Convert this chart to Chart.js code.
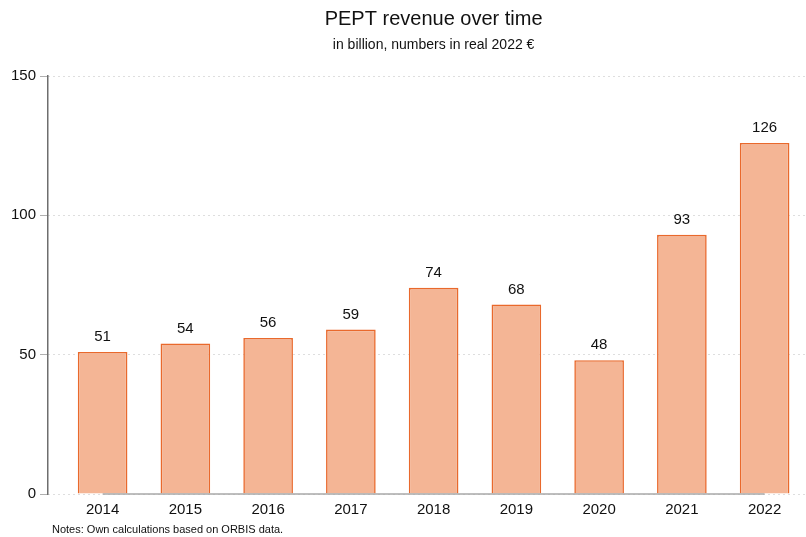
<!DOCTYPE html>
<html>
<head>
<meta charset="utf-8">
<script src="https://cdn.jsdelivr.net/npm/chart.js@4.4.1/dist/chart.umd.min.js"></script>
<style>
html,body{margin:0;padding:0;background:#fff;}
#wrap{width:806px;height:537px;}
</style>
</head>
<body>
<div id="wrap"><canvas id="c" width="806" height="537"></canvas></div>
<script>
const categories = ['2014','2015','2016','2017','2018','2019','2020','2021','2022'];
const revenue = [51, 54, 56, 59, 74, 68, 48, 93, 126];
const yTicks = [0, 50, 100, 150];
const titleText = 'PEPT revenue over time';
const subtitleText = 'in billion, numbers in real 2022 €';
const noteText = 'Notes: Own calculations based on ORBIS data.';

const FONT = '"Liberation Sans", Arial, sans-serif';

const barData = revenue.map((v, i) => ({x: i, y: v}));
const axisLine = [{x: 0, y: 0}, {x: categories.length - 1, y: 0}];

const textPlugin = {
  id: 'texts',
  afterDraw(chart) {
    const ctx = chart.ctx;
    const xs = chart.scales.x;
    const cx = (xs.getPixelForValue(-0.5) + xs.getPixelForValue(categories.length - 0.5)) / 2;
    ctx.save();
    ctx.fillStyle = '#111';
    ctx.textAlign = 'center';
    ctx.textBaseline = 'middle';
    ctx.font = '20px ' + FONT;
    ctx.fillText(titleText, cx, 19);
    ctx.font = '14px ' + FONT;
    ctx.fillText(subtitleText, cx, 45);
    ctx.textAlign = 'left';
    ctx.font = '11px ' + FONT;
    ctx.fillText(noteText, 52, 530);
    const meta = chart.getDatasetMeta(1);
    ctx.textAlign = 'center';
    ctx.font = '15px ' + FONT;
    meta.data.forEach((bar, i) => {
      ctx.fillText(String(revenue[i]), bar.x, bar.y - 15);
    });
    ctx.restore();
  }
};

new Chart(document.getElementById('c'), {
  type: 'bar',
  data: {
    datasets: [
      {
        type: 'line',
        data: axisLine,
        borderColor: '#a8a8a8',
        borderWidth: 1.5,
        pointRadius: 0,
        clip: false,
        order: 0
      },
      {
        type: 'bar',
        data: barData,
        backgroundColor: '#F4B595',
        borderColor: '#E9692C',
        borderWidth: 1.6,
        barPercentage: 0.6,
        categoryPercentage: 1,
        order: 1
      }
    ]
  },
  options: {
    responsive: false,
    animation: false,
    layout: {padding: {top: 76, right: 0, bottom: 0, left: 0}},
    plugins: {legend: {display: false}, tooltip: {enabled: false}, title: {display: false}},
    scales: {
      x: {
        type: 'linear',
        offset: false,
        min: -0.66,
        max: 8.5,
        afterBuildTicks(scale) { scale.ticks = categories.map((_, i) => ({value: i})); },
        afterFit(scale) { scale.height = 43; },
        grid: {display: false, drawTicks: false, offset: false},
        border: {display: false},
        ticks: {
          autoSkip: false,
          maxRotation: 0,
          padding: 7,
          color: '#111',
          font: {family: FONT, size: 15},
          callback: (v) => categories[v] ?? ''
        }
      },
      y: {
        min: 0,
        max: 150,
        afterBuildTicks(scale) { scale.ticks = yTicks.map(v => ({value: v})); },
        afterFit(scale) { scale.width = 48; },
        grid: {
          color: '#bdbdbd',
          lineWidth: 1,
          tickLength: 8,
          tickColor: '#b0b0b0',
          drawTicks: true
        },
        border: {display: true, color: '#6e6e6e', width: 1.5, dash: [1, 4]},
        ticks: {
          padding: 4,
          color: '#111',
          font: {family: FONT, size: 15}
        }
      }
    }
  },
  plugins: [textPlugin]
});
</script>
</body>
</html>
